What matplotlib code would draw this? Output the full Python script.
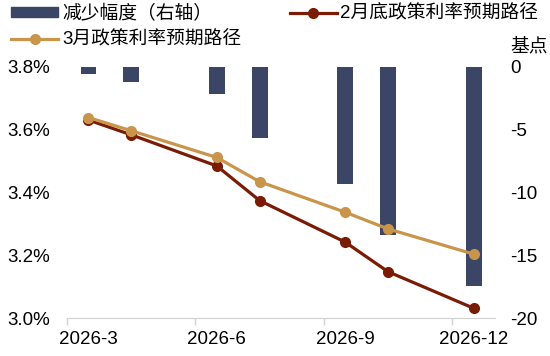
import matplotlib
matplotlib.use('Agg')
import matplotlib.pyplot as plt
import numpy as np
from matplotlib.patches import Patch
from matplotlib.lines import Line2D

plt.rcParams['font.family'] = ['Liberation Sans', 'Noto Sans CJK SC']
plt.rcParams['axes.unicode_minus'] = False

#fomc meeting months in 2026
months = [3, 4, 6, 7, 9, 10, 12]
#reduction in expected cuts, basis points (right axis)
reduction = [-0.6, -1.2, -2.2, -5.7, -9.3, -13.4, -17.4]
#policy rate path expected at end of february
path_feb = [3.630, 3.583, 3.484, 3.374, 3.242, 3.148, 3.032]
#policy rate path expected in march
path_mar = [3.638, 3.596, 3.511, 3.434, 3.337, 3.284, 3.204]
tick_labels = ['2026-3', '2026-6', '2026-9', '2026-12']

navy = '#3b4565'
brown = '#7a1c05'
gold = '#c9954b'

#month index on a category axis starting at march
x = np.array(months) - 3

fig = plt.figure(figsize=(5.5, 3.56), dpi=100)
ax = fig.add_axes([0.122, 0.106, 0.778, 0.707])
bx = ax.twinx()
ax.set_zorder(bx.get_zorder() + 1)
ax.patch.set_visible(False)

#bars hang down from zero on the right axis
bx.bar(x, reduction, width=0.37, color=navy)
bx.set_ylim(-20, 0)
bx.set_yticks([0, -5, -10, -15, -20])

ax.plot(x, path_feb, color=brown, lw=2.3, marker='o', ms=7)
ax.plot(x, path_mar, color=gold, lw=2.3, marker='o', ms=7)
ax.set_ylim(3.0, 3.8)
ax.set_yticks([3.0, 3.2, 3.4, 3.6, 3.8])
ax.set_yticklabels(['%.1f%%' % v for v in [3.0, 3.2, 3.4, 3.6, 3.8]])
ax.set_xlim(-0.5, 9.5)

#tick marks at quarter boundaries, labels in the middle of the month
ax.set_xticks([-0.5, 2.5, 5.5, 8.5])
ax.set_xticklabels([])
ax.set_xticks([0, 3, 6, 9], minor=True)
ax.set_xticklabels(tick_labels, minor=True)
ax.tick_params(axis='x', which='major', length=5, color='#d0d0d0', width=1)
ax.tick_params(axis='x', which='minor', length=0, pad=9, labelsize=13.5)
ax.tick_params(axis='y', length=0, pad=12, labelsize=13.5)
bx.tick_params(axis='y', length=0, pad=11, labelsize=13.5)

for a in (ax, bx):
    for s in ['top', 'left', 'right', 'bottom']:
        a.spines[s].set_visible(False)
ax.spines['bottom'].set_visible(True)
ax.spines['bottom'].set_color('#d0d0d0')

fig.text(0.927, 0.868, '基点', ha='left', va='center', fontsize=13.5)

handles = [Patch(color=navy),
           Line2D([], [], color=gold, lw=2.3, marker='o', ms=7),
           Line2D([], [], color=brown, lw=2.3, marker='o', ms=7)]
labels = ['减少幅度（右轴）', '3月政策利率预期路径', '2月底政策利率预期路径']
fig.legend(handles, labels, ncol=2, loc='upper left', bbox_to_anchor=(0.0, 1.018),
           frameon=False, fontsize=13.5, handlelength=2.5, handleheight=0.4,
           handletextpad=0.2, columnspacing=2.6, labelspacing=0.45,
           borderaxespad=0.2)

fig.savefig('out.png', dpi=100)
